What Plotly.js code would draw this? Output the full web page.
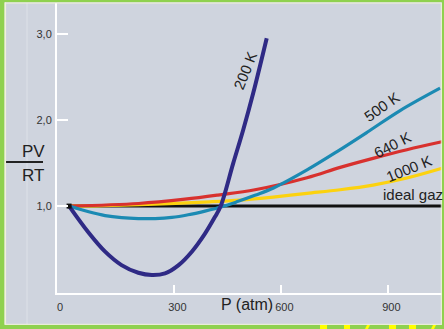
<!DOCTYPE html>
<html>
<head>
<meta charset="utf-8">
<script src="https://cdn.plot.ly/plotly-3.0.1.min.js"></script>
<style>
html,body{margin:0;padding:0;background:#cfd4de;}
#chart{width:444px;height:329px;}
</style>
</head>
<body>
<div id="chart"></div>
<script>
// ---- data ----
const seriesNames = ["200 K", "500 K", "640 K", "1000 K", "ideal gaz"];
const p200 = [5, 60, 106, 152, 199, 237, 274, 312, 349, 386, 414, 430, 465, 493, 521, 559];
const v200 = [1.0, 0.69, 0.47, 0.314, 0.225, 0.198, 0.217, 0.314, 0.47, 0.68, 0.875, 1.0, 1.496, 1.884, 2.31, 2.95];
const p500 = [5, 60, 106, 152, 199, 246, 293, 339, 386, 433, 479, 526, 578, 672, 755, 845, 933, 1045];
const v500 = [1.0, 0.934, 0.89, 0.866, 0.855, 0.855, 0.868, 0.899, 0.942, 0.992, 1.055, 1.125, 1.21, 1.42, 1.63, 1.87, 2.11, 2.37];
const p640 = [5, 200, 330, 422, 526, 672, 765, 857, 952, 1053];
const v640 = [1.0, 1.03, 1.08, 1.128, 1.19, 1.33, 1.45, 1.555, 1.655, 1.75];
const p1000 = [5, 100, 246, 400, 484, 577, 672, 765, 857, 952, 1053];
const v1000 = [1.0, 1.005, 1.023, 1.05, 1.07, 1.105, 1.148, 1.19, 1.244, 1.326, 1.442];
const pIdeal = [5, 1060];
const vIdeal = [1.0, 1.0];
const xTickVals = [-28.9, 300, 600, 900];
const xTickText = ["0", "300", "600", "900"];
const yTickVals = [1, 2, 3];
const yTickText = ["1,0", "2,0", "3,0"];

// ---- layout helpers (pixel -> paper) ----
const L = 57, T = 3, W = 444, H = 329, B = 36;
const PW = W - L, PH = H - T - B;
const fx = px => (px - L) / PW;
const fy = py => (H - B - py) / PH;
const FONT = "Liberation Sans, Arial, sans-serif";

const traces = [
  {x: pIdeal, y: vIdeal, mode: "lines", line: {color: "#111111", width: 3}, name: seriesNames[4]},
  {x: p1000, y: v1000, mode: "lines", line: {color: "#fcd20f", width: 3.2, shape: "spline", smoothing: 1}, name: seriesNames[3]},
  {x: p640, y: v640, mode: "lines", line: {color: "#d8312e", width: 3.2, shape: "spline", smoothing: 1}, name: seriesNames[2]},
  {x: p500, y: v500, mode: "lines", line: {color: "#1b8ab3", width: 3.2, shape: "spline", smoothing: 1}, name: seriesNames[1]},
  {x: p200, y: v200, mode: "lines", line: {color: "#2f2a85", width: 4, shape: "spline", smoothing: 1}, name: seriesNames[0]},
  {x: [pIdeal[0]], y: [vIdeal[0]], mode: "markers", marker: {color: "#111111", size: 5, symbol: "square"}, name: ""}
];

const labelFont = {family: FONT, size: 15, color: "#222222"};
const annotations = [
  {x: 498, y: 2.58, xref: "x", yref: "y", text: seriesNames[0], showarrow: false, textangle: -68, font: labelFont},
  {x: 882, y: 2.16, xref: "x", yref: "y", text: seriesNames[1], showarrow: false, textangle: -35, font: labelFont},
  {x: 913, y: 1.71, xref: "x", yref: "y", text: seriesNames[2], showarrow: false, textangle: -27, font: labelFont},
  {x: 958, y: 1.44, xref: "x", yref: "y", text: seriesNames[3], showarrow: false, textangle: -22, font: labelFont},
  {x: 880, y: 1.14, xref: "x", yref: "y", text: seriesNames[4], showarrow: false, xanchor: "left", font: labelFont},
  {x: fx(20), y: fy(151), xref: "paper", yref: "paper", text: "PV", showarrow: false, font: {family: FONT, size: 17, color: "#222"}},
  {x: fx(20), y: fy(175), xref: "paper", yref: "paper", text: "RT", showarrow: false, font: {family: FONT, size: 17, color: "#222"}},
  {x: fx(247), y: fy(315), xref: "paper", yref: "paper", text: "P (atm)", showarrow: false, font: {family: FONT, size: 16, color: "#222"}}
];

const green = "#8fd14f";
const shapes = [
  {type: "line", xref: "paper", yref: "paper", x0: fx(27), x1: fx(27), y0: fy(3), y1: fy(324), line: {color: "#dde1e8", width: 1}, layer: "below"},
  {type: "line", xref: "paper", yref: "paper", x0: fx(5), x1: fx(43), y0: fy(162), y1: fy(162), line: {color: "#222", width: 2}},
  // slide border
  {type: "rect", xref: "paper", yref: "paper", x0: fx(0), x1: fx(4.5), y0: fy(0), y1: fy(329), fillcolor: green, line: {width: 0}},
  {type: "rect", xref: "paper", yref: "paper", x0: fx(0), x1: fx(444), y0: fy(0), y1: fy(2.2), fillcolor: green, line: {width: 0}},
  {type: "rect", xref: "paper", yref: "paper", x0: fx(0), x1: fx(444), y0: fy(325), y1: fy(329), fillcolor: green, line: {width: 0}},
  {type: "rect", xref: "paper", yref: "paper", x0: fx(442), x1: fx(444), y0: fy(0), y1: fy(329), fillcolor: green, line: {width: 0}},
  {type: "line", xref: "paper", yref: "paper", x0: fx(5.3), x1: fx(5.3), y0: fy(2.5), y1: fy(324.5), line: {color: "#f1f2d8", width: 1.5}},
  {type: "line", xref: "paper", yref: "paper", x0: fx(5), x1: fx(441.5), y0: fy(3), y1: fy(3), line: {color: "#f1f2d8", width: 1}},
  {type: "line", xref: "paper", yref: "paper", x0: fx(5), x1: fx(441.5), y0: fy(324.3), y1: fy(324.3), line: {color: "#f1f2d8", width: 1}},
  {type: "line", xref: "paper", yref: "paper", x0: fx(441.3), x1: fx(441.3), y0: fy(3), y1: fy(324.5), line: {color: "#f1f2d8", width: 1}},
  // tops of yellow letters at the bottom edge
  {type: "rect", xref: "paper", yref: "paper", x0: fx(320), x1: fx(327), y0: fy(325), y1: fy(329), fillcolor: "#ffff00", line: {width: 0}},
  {type: "rect", xref: "paper", yref: "paper", x0: fx(344), x1: fx(350), y0: fy(325), y1: fy(329), fillcolor: "#ffff00", line: {width: 0}},
  {type: "path", xref: "paper", yref: "paper", path: `M ${fx(365)} ${fy(329)} L ${fx(368)} ${fy(329)} L ${fx(370)} ${fy(325)} L ${fx(367)} ${fy(325)} Z`, fillcolor: "#ffff00", line: {width: 0}},
  {type: "rect", xref: "paper", yref: "paper", x0: fx(389), x1: fx(396), y0: fy(325), y1: fy(329), fillcolor: "#ffff00", line: {width: 0}},
  {type: "rect", xref: "paper", yref: "paper", x0: fx(409), x1: fx(416), y0: fy(325), y1: fy(329), fillcolor: "#ffff00", line: {width: 0}},
  {type: "path", xref: "paper", yref: "paper", path: `M ${fx(431)} ${fy(329)} L ${fx(434)} ${fy(329)} L ${fx(436)} ${fy(325)} L ${fx(433)} ${fy(325)} Z`, fillcolor: "#ffff00", line: {width: 0}}
];

const layout = {
  width: W, height: H,
  margin: {l: L, r: 0, t: T, b: B, pad: 0},
  paper_bgcolor: "#cfd4de",
  plot_bgcolor: "#cfd4de",
  showlegend: false,
  font: {family: FONT, size: 11, color: "#333"},
  xaxis: {
    range: [-28.9, 1056], showgrid: false, zeroline: false,
    showline: true, linecolor: "#ffffff", linewidth: 2,
    ticks: "inside", ticklen: 8, tickwidth: 2, tickcolor: "#ffffff",
    tickvals: xTickVals, ticktext: xTickText,
    tickfont: {family: FONT, size: 11, color: "#333"},
    ticklabelstandoff: 3, ticklabelshift: 3
  },
  yaxis: {
    range: [-0.01, 3.36], showgrid: false, zeroline: false,
    showline: true, linecolor: "#ffffff", linewidth: 2,
    ticks: "inside", ticklen: 11, tickwidth: 2, tickcolor: "#ffffff",
    tickvals: yTickVals, ticktext: yTickText,
    tickfont: {family: FONT, size: 11, color: "#333"},
    ticklabelstandoff: 1
  },
  annotations: annotations,
  shapes: shapes
};

Plotly.newPlot("chart", traces, layout, {staticPlot: true, displayModeBar: false});
</script>
</body>
</html>
